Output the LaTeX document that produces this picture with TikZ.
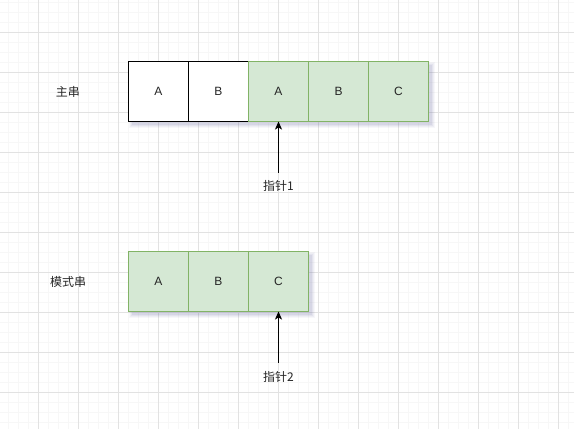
\documentclass[tikz,border=0pt]{standalone}
\usepackage{fontspec}
\setmainfont{Liberation Sans}
\newfontfamily\cjk{Noto Sans CJK SC}
\usetikzlibrary{arrows.meta}
\definecolor{gridminor}{HTML}{F7F7F7}
\definecolor{gridmajor}{HTML}{E2E2E2}
\definecolor{matchfill}{HTML}{D5E8D4}
\definecolor{matchline}{HTML}{82B366}
\definecolor{shadowc}{HTML}{6A6AA0}

% soft drop shadow under a box given by its two corners
\newcommand\dropshade[4]{%
  \foreach \r/\o in {3/0.05,2/0.06,1/0.08,0/0.10}{%
    \fill[shadowc, opacity=\o] (#1+3-\r,#2+3-\r) rectangle (#3+3+\r,#4+3+\r);}}

\begin{document}
\begin{tikzpicture}[x=1pt,y=-1pt,
  every node/.style={font=\fontsize{12}{14}\selectfont, inner sep=0pt, outer sep=0pt, text=black!85},
  cell/.style={draw=black, fill=white, line width=1pt, minimum width=60pt, minimum height=60pt},
  hit/.style={cell, draw=matchline, fill=matchfill},
  tag/.style={font=\cjk\fontsize{12}{14}\selectfont},
  ptr/.style={-{Stealth[length=8pt,width=7pt,inset=2pt]}, line width=1pt}
]
\useasboundingbox (0,0) rectangle (574,429);
\fill[white] (0,0) rectangle (574,429);

\begin{scope}[shift={(0.5,0.5)}]
% background grid: fine lines every 10, heavier lines every 40
\foreach \x in {8,18,...,568} \draw[gridminor, line width=1pt] (\x,-1) -- (\x,430);
\foreach \y in {2,12,...,422} \draw[gridminor, line width=1pt] (-1,\y) -- (575,\y);
\foreach \x in {38,78,...,558} \draw[gridmajor, line width=1pt] (\x,-1) -- (\x,430);
\foreach \y in {32,72,...,392} \draw[gridmajor, line width=1pt] (-1,\y) -- (575,\y);

% main string
\dropshade{128}{61}{428}{121}
\node[cell] (m1) at (158,91) {A};
\node[cell] (m2) at (218,91) {B};
\node[hit]  (m3) at (278,91) {A};
\node[hit]  (m4) at (338,91) {B};
\node[hit]  (m5) at (398,91) {C};

% pattern string
\dropshade{128}{251}{308}{311}
\node[hit] (p1) at (158,281) {A};
\node[hit] (p2) at (218,281) {B};
\node[hit] (p3) at (278,281) {C};

% row captions
\node[tag] (mainlbl) at (67.5,91) {主串};
\node[tag] (patlbl) at (67.5,281) {模式串};

% pointers
\node[tag] (ptr1) at (278,185) {指针1};
\node[tag] (ptr2) at (278,376) {指针2};
\coordinate (t1) at (278,172);
\coordinate (t2) at (278,362);
\draw[ptr] (t1) -- (m3.south);
\draw[ptr] (t2) -- (p3.south);
\end{scope}
\end{tikzpicture}
\end{document}
